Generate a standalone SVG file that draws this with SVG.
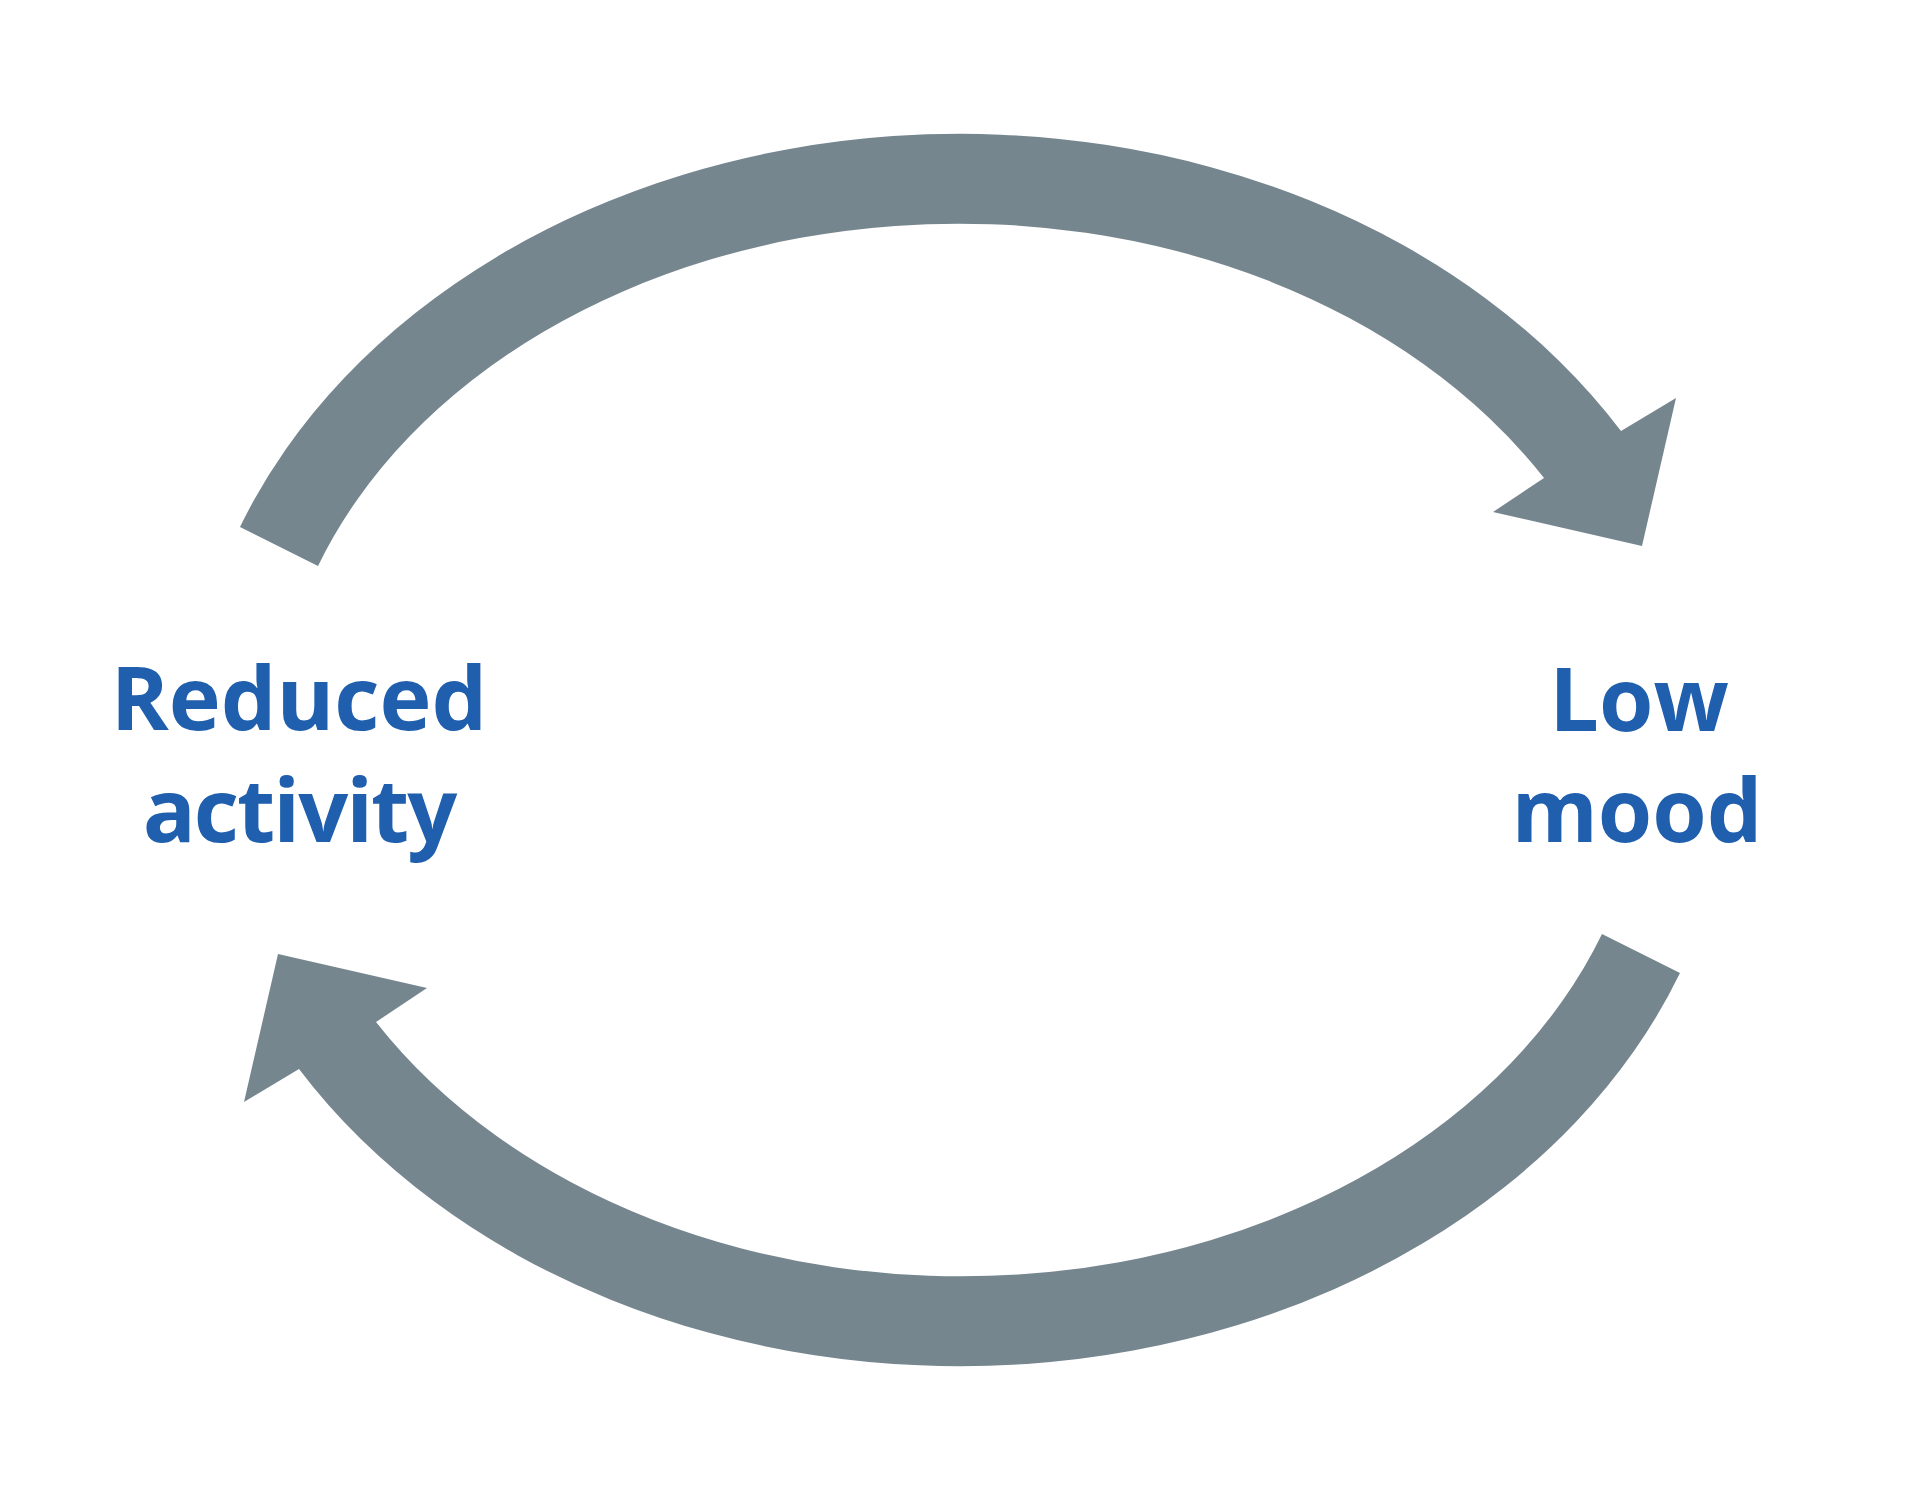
<svg xmlns="http://www.w3.org/2000/svg" width="1920" height="1501" viewBox="0 0 1920 1501">
<style>
.arrow{fill:#76868f;stroke:none}
.lbl{font-family:"Open Sans","Noto Sans","Liberation Sans",sans-serif;font-weight:700;font-size:88px;fill:#1f5fad;text-anchor:middle}
</style>
<rect width="1920" height="1501" fill="#ffffff"/>
<g id="connectors">
<path id="arrow-top" class="arrow" d="M 240,527 A 772 615 0 0 1 1621,431 L 1676,398 L 1642,546 L 1493,512 L 1544,478 A 684 527 0 0 0 318,566 Z"/>
<path id="arrow-bottom" class="arrow" transform="rotate(180 960 750)" d="M 240,527 A 772 615 0 0 1 1621,431 L 1676,398 L 1642,546 L 1493,512 L 1544,478 A 684 527 0 0 0 318,566 Z"/>
</g>
<g id="node-reduced-activity">
<text class="lbl" x="299" y="730">Reduced</text>
<text class="lbl" x="299" y="842" letter-spacing="-2">activity</text>
</g>
<g id="node-low-mood">
<text class="lbl" x="1639" y="731">Low</text>
<text class="lbl" x="1637" y="842">mood</text>
</g>
</svg>
